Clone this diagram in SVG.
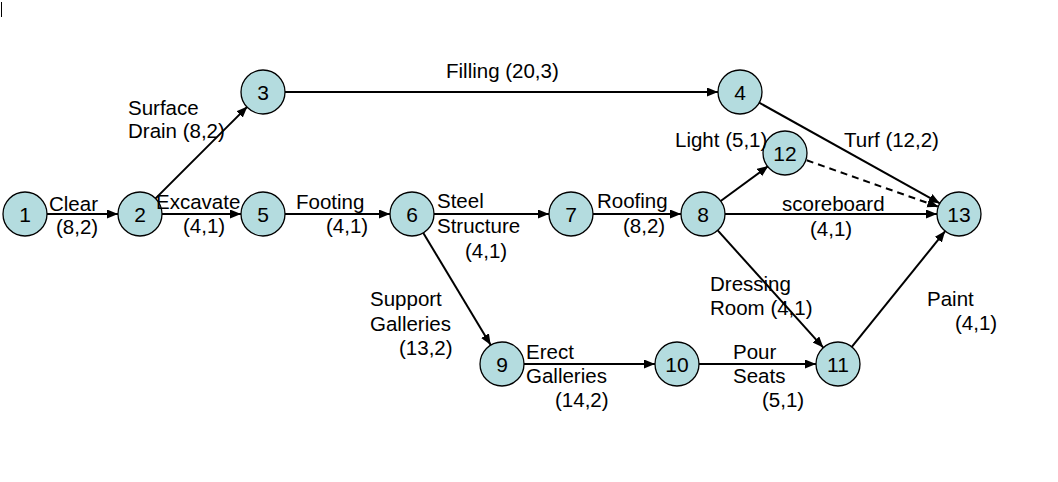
<svg xmlns="http://www.w3.org/2000/svg" width="1058" height="482" viewBox="0 0 1058 482">
<style>
.n circle{fill:#B4DCDF;stroke:#000;stroke-width:1.3}
.n text{font-family:"Liberation Sans",Arial,sans-serif;font-size:21px;text-anchor:middle;fill:#000}
.e line{stroke:#000;stroke-width:2;marker-end:url(#ah)}
.e line.d{stroke-dasharray:7,5}
.lb text{font-family:"Liberation Sans",Arial,sans-serif;font-size:20.5px;fill:#000}
</style>
<defs>
<marker id="ah" markerUnits="userSpaceOnUse" markerWidth="12" markerHeight="10" refX="11" refY="4.5" orient="auto">
<path d="M0,0 L11,4.5 L0,9 z" fill="#000"/>
</marker>
</defs>
<rect width="1058" height="482" fill="#fff"/>
<line x1="1.5" y1="2" x2="1.5" y2="17" stroke="#000" stroke-width="1"/>
<g id="connectors" class="e">
<line x1="47" y1="214" x2="118" y2="214"/>
<line x1="155.6" y1="198.4" x2="247.4" y2="106.6"/>
<line x1="162" y1="214" x2="241" y2="214"/>
<line x1="285" y1="92" x2="718" y2="92"/>
<line x1="285" y1="214" x2="390" y2="214"/>
<line x1="434" y1="214" x2="549" y2="214"/>
<line x1="593" y1="214" x2="681" y2="214"/>
<line x1="759.2" y1="102.7" x2="939.8" y2="203.3"/>
<line x1="720.7" y1="201" x2="768.3" y2="166"/>
<line class="d" x1="806.7" y1="160.3" x2="938.3" y2="206.7"/>
<line x1="725" y1="214" x2="937" y2="214"/>
<line x1="423.3" y1="232.9" x2="490.7" y2="345.1"/>
<line x1="524" y1="364" x2="655" y2="364"/>
<line x1="699" y1="364" x2="816" y2="364"/>
<line x1="717.7" y1="230.4" x2="823.3" y2="347.6"/>
<line x1="851.8" y1="346.9" x2="945.2" y2="231.1"/>
</g>
<g id="node1" class="n"><circle cx="25" cy="214" r="22"/><text x="25" y="221.5">1</text></g>
<g id="node2" class="n"><circle cx="140" cy="214" r="22"/><text x="140" y="221.5">2</text></g>
<g id="node3" class="n"><circle cx="263" cy="92" r="22"/><text x="263" y="99.5">3</text></g>
<g id="node4" class="n"><circle cx="740" cy="92" r="22"/><text x="740" y="99.5">4</text></g>
<g id="node5" class="n"><circle cx="263" cy="214" r="22"/><text x="263" y="221.5">5</text></g>
<g id="node6" class="n"><circle cx="412" cy="214" r="22"/><text x="412" y="221.5">6</text></g>
<g id="node7" class="n"><circle cx="571" cy="214" r="22"/><text x="571" y="221.5">7</text></g>
<g id="node8" class="n"><circle cx="703" cy="214" r="22"/><text x="703" y="221.5">8</text></g>
<g id="node9" class="n"><circle cx="502" cy="364" r="22"/><text x="502" y="371.5">9</text></g>
<g id="node10" class="n"><circle cx="677" cy="364" r="22"/><text x="677" y="371.5">10</text></g>
<g id="node11" class="n"><circle cx="838" cy="364" r="22"/><text x="838" y="371.5">11</text></g>
<g id="node12" class="n"><circle cx="785" cy="153" r="22"/><text x="785" y="160.5">12</text></g>
<g id="node13" class="n"><circle cx="959" cy="214" r="22"/><text x="959" y="221.5">13</text></g>
<g id="labels" class="lb">
<text x="446" y="78">Filling (20,3)</text>
<text x="128" y="115">Surface</text>
<text x="128" y="138">Drain (8,2)</text>
<text x="49" y="211">Clear</text>
<text x="56" y="234">(8,2)</text>
<text x="156" y="209">Excavate</text>
<text x="183" y="233">(4,1)</text>
<text x="296" y="209">Footing</text>
<text x="326" y="233">(4,1)</text>
<text x="437" y="208">Steel</text>
<text x="437" y="233">Structure</text>
<text x="465" y="258">(4,1)</text>
<text x="597" y="208">Roofing</text>
<text x="623" y="233">(8,2)</text>
<text x="675" y="147">Light (5,1)</text>
<text x="844" y="147">Turf (12,2)</text>
<text x="782" y="211">scoreboard</text>
<text x="810" y="236">(4,1)</text>
<text x="370" y="306">Support</text>
<text x="370" y="331">Galleries</text>
<text x="399" y="355">(13,2)</text>
<text x="526" y="359">Erect</text>
<text x="526" y="383">Galleries</text>
<text x="555" y="407">(14,2)</text>
<text x="710" y="291">Dressing</text>
<text x="710" y="315">Room (4,1)</text>
<text x="733" y="359">Pour</text>
<text x="733" y="383">Seats</text>
<text x="762" y="407">(5,1)</text>
<text x="927" y="306">Paint</text>
<text x="955" y="330">(4,1)</text>
</g>
</svg>
